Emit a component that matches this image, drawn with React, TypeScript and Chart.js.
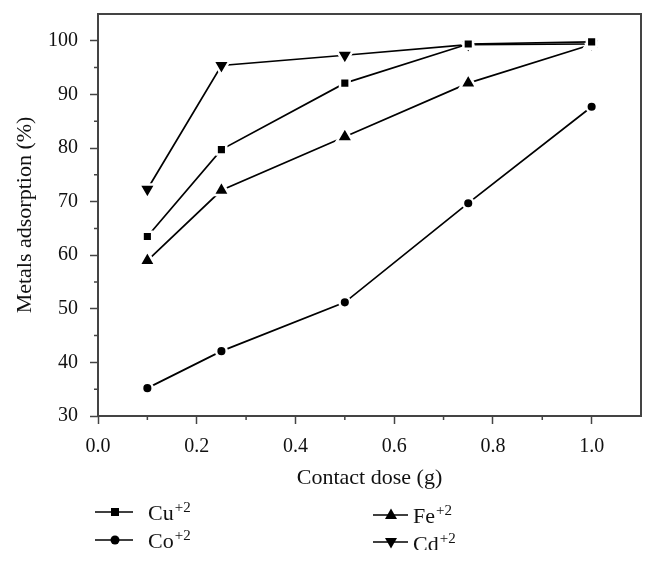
import React, { useEffect, useRef } from 'react';
import { Chart, registerables } from 'chart.js';

Chart.register(...registerables);

// ---- data ----
const doses = [0.1, 0.25, 0.5, 0.75, 1.0];
const cuValues = [63.5, 79.7, 92.1, 99.4, 99.8];
const coValues = [35.2, 42.1, 51.2, 69.7, 87.7];
const feValues = [59.0, 72.1, 82.1, 92.1, 99.3];
const cdValues = [72.3, 95.4, 97.3, 99.3, 99.4];

const seriesNames = ['Cu', 'Co', 'Fe', 'Cd'];
const seriesCharge = ['+2', '+2', '+2', '+2'];

const minorXTicks = [0.1, 0.3, 0.5, 0.7, 0.9];
const minorYTicks = [35, 45, 55, 65, 75, 85, 95];

const FONT = '"Liberation Serif", "DejaVu Serif", serif';
const AXIS_COLOR = '#444';
const TEXT_COLOR = '#111';

function toPoints(values: number[]) {
  return doses.map((x, i) => ({ x, y: values[i] }));
}

function drawMarker(ctx: CanvasRenderingContext2D, style: string, x: number, y: number) {
  ctx.beginPath();
  if (style === 'rect') {
    ctx.rect(x - 4, y - 4, 8, 8);
  } else if (style === 'circle') {
    ctx.arc(x, y, 4.5, 0, Math.PI * 2);
  } else if (style === 'triangle') {
    ctx.moveTo(x, y - 6.5);
    ctx.lineTo(x + 6, y + 4);
    ctx.lineTo(x - 6, y + 4);
    ctx.closePath();
  } else {
    ctx.moveTo(x, y + 6.5);
    ctx.lineTo(x + 6, y - 4);
    ctx.lineTo(x - 6, y - 4);
    ctx.closePath();
  }
  ctx.fill();
}

const legendItems = [
  { idx: 0, style: 'rect', x1: 95, x2: 133, mx: 115, ly: 512, tx: 148, by: 520 },
  { idx: 1, style: 'circle', x1: 95, x2: 133, mx: 115, ly: 540, tx: 148, by: 548 },
  { idx: 2, style: 'triangle', x1: 373, x2: 408, mx: 391, ly: 515, tx: 413, by: 523 },
  { idx: 3, style: 'invtriangle', x1: 373, x2: 408, mx: 391, ly: 542, tx: 413, by: 551, clip: 550 },
];

const framePlugin = {
  id: 'frameAndLegend',
  afterDraw(chart: any) {
    const { ctx, chartArea: a, scales } = chart;
    ctx.save();
    ctx.strokeStyle = AXIS_COLOR;
    ctx.lineWidth = 1.5;
    ctx.beginPath();
    minorXTicks.forEach((v) => {
      const px = scales.x.getPixelForValue(v);
      ctx.moveTo(px, a.bottom);
      ctx.lineTo(px, a.bottom + 4);
    });
    minorYTicks.forEach((v) => {
      const py = scales.y.getPixelForValue(v);
      ctx.moveTo(a.left, py);
      ctx.lineTo(a.left - 4, py);
    });
    ctx.stroke();

    ctx.lineWidth = 2;
    ctx.strokeRect(a.left, a.top, a.right - a.left, a.bottom - a.top);

    // legend
    legendItems.forEach((it) => {
      ctx.save();
      if (it.clip) {
        ctx.beginPath();
        ctx.rect(0, 0, chart.width, it.clip);
        ctx.clip();
      }
      ctx.strokeStyle = '#000';
      ctx.fillStyle = '#000';
      ctx.lineWidth = 1.6;
      ctx.beginPath();
      ctx.moveTo(it.x1, it.ly);
      ctx.lineTo(it.x2, it.ly);
      ctx.stroke();
      drawMarker(ctx, it.style, it.mx, it.ly);
      ctx.fillStyle = TEXT_COLOR;
      ctx.textAlign = 'left';
      ctx.textBaseline = 'alphabetic';
      ctx.font = `22px ${FONT}`;
      const name = seriesNames[it.idx];
      ctx.fillText(name, it.tx, it.by);
      const w = ctx.measureText(name).width;
      ctx.font = `15px ${FONT}`;
      ctx.fillText(seriesCharge[it.idx], it.tx + w + 1, it.by - 8);
      ctx.restore();
    });
    ctx.restore();
  },
};

export default function App() {
  const canvasRef = useRef<HTMLCanvasElement | null>(null);

  useEffect(() => {
    if (!canvasRef.current) return;
    const common = {
      borderColor: '#000',
      borderWidth: 1.7,
      pointBackgroundColor: '#000',
      pointBorderColor: '#fff',
      pointBorderWidth: 2.5,
      fill: false,
      tension: 0,
    };
    const chart = new Chart(canvasRef.current, {
      type: 'line',
      data: {
        datasets: [
          { ...common, label: 'Cu+2', data: toPoints(cuValues), pointStyle: 'rect', pointRadius: 6.8 },
          { ...common, label: 'Co+2', data: toPoints(coValues), pointStyle: 'circle', pointRadius: 5.3 },
          { ...common, label: 'Fe+2', data: toPoints(feValues), pointStyle: 'triangle', pointRadius: 9.4 },
          { ...common, label: 'Cd+2', data: toPoints(cdValues), pointStyle: 'triangle', pointRotation: 180, pointRadius: 9.4 },
        ] as any,
      },
      options: {
        animation: false,
        responsive: false,
        maintainAspectRatio: false,
        layout: { padding: { top: 14, right: 15, left: 0, bottom: 0 } },
        plugins: {
          legend: { display: false },
          tooltip: { enabled: false },
        },
        scales: {
          x: {
            type: 'linear',
            min: 0,
            max: 1.1,
            afterFit: (s: any) => { s.height = 149; s.paddingLeft = 0; s.paddingRight = 0; },
            ticks: {
              stepSize: 0.2,
              includeBounds: false,
              callback: (v: any) => Number(v).toFixed(1),
              font: { family: FONT, size: 20 },
              color: TEXT_COLOR,
              padding: 11,
              maxRotation: 0,
            },
            grid: { display: true, drawOnChartArea: false, drawTicks: true, tickLength: 8, tickColor: AXIS_COLOR, tickWidth: 1.5 },
            border: { display: false },
            title: {
              display: true,
              text: 'Contact dose (g)',
              font: { family: FONT, size: 22, lineHeight: 1.2 },
              color: TEXT_COLOR,
              padding: { top: 0, bottom: 74 },
            },
          },
          y: {
            type: 'linear',
            min: 30,
            max: 105,
            afterFit: (s: any) => { s.width = 98; s.paddingTop = 0; s.paddingBottom = 0; },
            ticks: {
              stepSize: 10,
              includeBounds: false,
              font: { family: FONT, size: 20 },
              color: TEXT_COLOR,
              padding: 12,
            },
            grid: { display: true, drawOnChartArea: false, drawTicks: true, tickLength: 8, tickColor: AXIS_COLOR, tickWidth: 1.5 },
            border: { display: false },
            title: {
              display: true,
              text: 'Metals adsorption (%)',
              font: { family: FONT, size: 22, lineHeight: 1.2 },
              color: TEXT_COLOR,
              padding: { top: 12, bottom: 0 },
            },
          },
        },
      } as any,
      plugins: [framePlugin],
    });
    return () => chart.destroy();
  }, []);

  return (
    <div style={{ position: 'fixed', left: 0, top: 0, width: 656, height: 565, background: '#fff' }}>
      <canvas ref={canvasRef} width={656} height={565} style={{ display: 'block' }} />
    </div>
  );
}
